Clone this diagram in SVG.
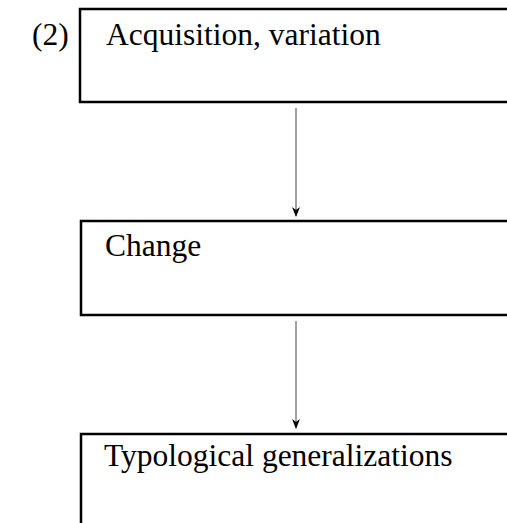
<svg xmlns="http://www.w3.org/2000/svg" width="507" height="523" viewBox="0 0 507 523">
<style>
.box{fill:#fff;stroke:#000;stroke-width:2.5}
.t{font-family:"Liberation Serif","Times New Roman",serif;font-size:31.5px;fill:#000}
.c{stroke:#808080;stroke-width:1.5;fill:none}
</style>
<defs>
<marker id="ah" markerWidth="10" markerHeight="8" refX="9" refY="4" orient="auto" markerUnits="userSpaceOnUse" viewBox="0 0 10 8">
<path d="M0,0 L10,4 L0,8 L3,4 Z" fill="#000"/>
</marker>
</defs>
<text class="t" x="32" y="45">(2)</text>
<g id="n1">
<rect class="box" x="80" y="9" width="440" height="93"/>
<text class="t" x="106" y="45">Acquisition, variation</text>
</g>
<g id="n2">
<rect class="box" x="81" y="221" width="440" height="94"/>
<text class="t" x="105" y="256">Change</text>
</g>
<g id="n3">
<rect class="box" x="81" y="434" width="440" height="100"/>
<text class="t" x="104" y="466">Typological generalizations</text>
</g>
<g id="connectors">
<line class="c" x1="296" y1="108" x2="296" y2="216" marker-end="url(#ah)"/>
<line class="c" x1="296" y1="321" x2="296" y2="428" marker-end="url(#ah)"/>
</g>
</svg>
